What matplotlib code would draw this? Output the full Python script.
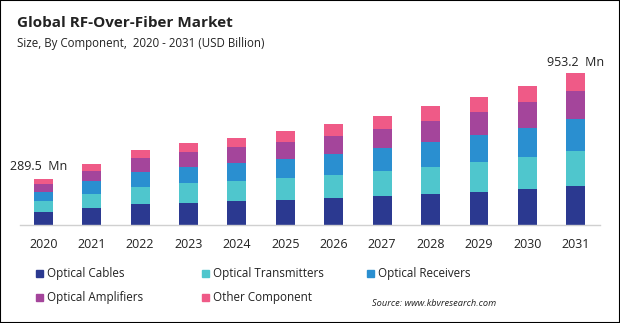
import numpy as np
import matplotlib.pyplot as plt
from matplotlib.patches import Rectangle

plt.rcParams['font.family'] = ['Open Sans', 'DejaVu Sans']

years = ['2020', '2021', '2022', '2023', '2024', '2025', '2026', '2027', '2028', '2029', '2030', '2031']
components = ['Optical Cables', 'Optical Transmitters', 'Optical Receivers', 'Optical Amplifiers', 'Other Component']

# USD Mn
optical_cables = [81.6, 106.8, 131.9, 138.2, 150.7, 157.0, 169.6, 182.1, 194.7, 207.2, 226.1, 244.9]
optical_transmitters = [69.1, 89.8, 106.8, 125.6, 125.6, 138.2, 144.4, 158.9, 169.6, 188.4, 201.0, 219.8]
optical_receivers = [58.6, 81.6, 96.1, 100.5, 113.0, 119.3, 131.9, 144.4, 158.9, 169.6, 182.1, 199.1]
optical_amplifiers = [50.2, 60.9, 86.0, 94.2, 100.5, 106.8, 113.0, 117.4, 130.0, 144.4, 163.3, 177.7]
other_component = [30.0, 45.8, 50.2, 56.5, 56.5, 69.1, 77.2, 83.5, 89.8, 94.2, 100.5, 111.7]

colors = ['#2b3990', '#4fc6cd', '#2a8fd0', '#a4459b', '#ef5a87']

series = [optical_cables, optical_transmitters, optical_receivers, optical_amplifiers, other_component]

fig = plt.figure(figsize=(6.2, 3.23), dpi=100)
W, H = 620, 323
ax = fig.add_axes([20 / W, 1 - 225 / H, 580 / W, 165 / H])

x = np.arange(len(years))
bottom = np.zeros(len(years))
for name, vals, c in zip(components, series, colors):
    ax.bar(x, vals, width=0.39, bottom=bottom, color=c, label=name, zorder=2)
    bottom += np.array(vals)

ax.set_xlim(-0.48, 11.5)
ax.set_ylim(0, 165 * 6.27)
ax.set_yticks([])
for s in ['top', 'right', 'left']:
    ax.spines[s].set_visible(False)
ax.spines['bottom'].set_color('#d0d0d0')
ax.spines['bottom'].set_linewidth(1.0)
ax.set_xticks(x)
ax.set_xticklabels(years, fontsize=9, color='#222222')
ax.tick_params(axis='x', length=0, pad=9)

totals = bottom
ax.annotate(f'{totals[0]:.1f}  Mn', xy=(x[0], totals[0]), xytext=(-3, 4), textcoords='offset points',
            ha='center', va='bottom', fontsize=9, color='#222222')
ax.annotate('953.2  Mn', xy=(x[-1], totals[-1]), xytext=(0, 3), textcoords='offset points',
            ha='center', va='bottom', fontsize=9, color='#222222')

fig.text(17 / W, 1 - 23 / H, 'Global RF-Over-Fiber Market', fontsize=11, fontweight='bold',
         color='#222222', va='center', ha='left')
fig.text(17 / W, 1 - 43 / H, 'Size, By Component,  2020 - 2031 (USD Billion)', fontsize=8.3,
         color='#222222', va='center', ha='left')

# legend laid out in two rows like the source
legend_pos = [(36, 273), (202, 273), (367, 273), (36, 297), (202, 297)]
for (lx, ly), name, c in zip(legend_pos, components, colors):
    fig.patches.append(Rectangle((lx / W, 1 - (ly + 3.5) / H), 7 / W, 7 / H, transform=fig.transFigure,
                                 color=c, figure=fig))
    fig.text((lx + 11) / W, 1 - ly / H, name, fontsize=8.4, color='#222222', va='center', ha='left')

fig.text(372 / W, 1 - 304 / H, 'Source: www.kbvresearch.com', fontsize=6.7, style='italic',
         color='#222222', va='center', ha='left')

fig.patches.append(Rectangle((0, 0), 1, 1, transform=fig.transFigure, fill=False,
                             edgecolor='black', linewidth=1.5, figure=fig))

fig.savefig('out.png', dpi=100)
